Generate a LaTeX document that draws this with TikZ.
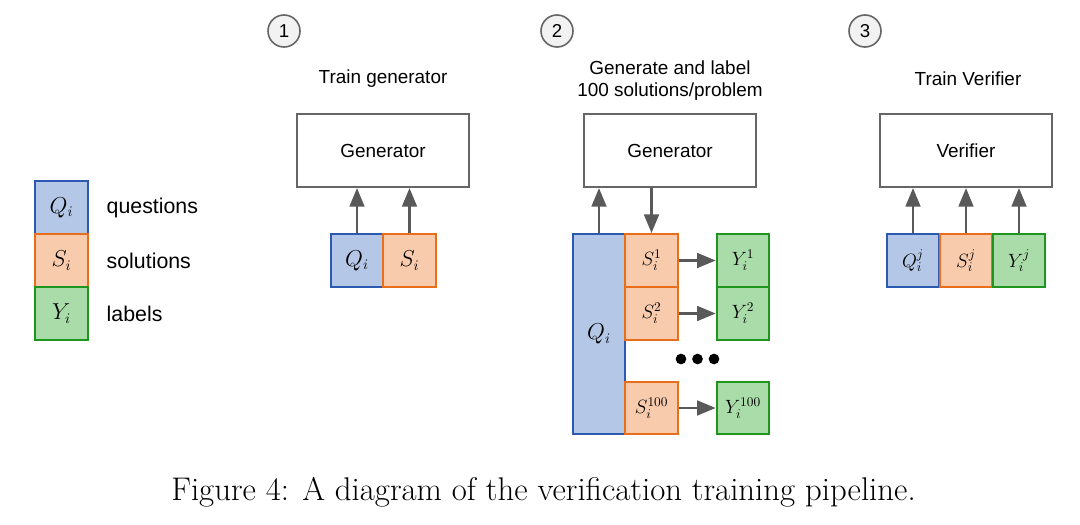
\documentclass[tikz,border=0pt]{standalone}
\usepackage{fontspec}
\setsansfont{Liberation Sans}
\usetikzlibrary{arrows.meta}
\definecolor{qfill}{RGB}{180,199,231}
\definecolor{qline}{RGB}{44,90,176}
\definecolor{sfill}{RGB}{248,203,173}
\definecolor{sline}{RGB}{232,110,28}
\definecolor{yfill}{RGB}{170,220,170}
\definecolor{yline}{RGB}{30,150,30}
\definecolor{gline}{RGB}{102,102,102}
\definecolor{aline}{RGB}{89,89,89}
\tikzset{
  sq/.style={minimum width=39.4pt, minimum height=39.6pt, inner sep=0pt, line width=1.5pt},
  qbox/.style={sq, draw=qline, fill=qfill},
  sbox/.style={sq, draw=sline, fill=sfill},
  ybox/.style={sq, draw=yline, fill=yfill},
  gbox/.style={draw=gline, line width=1.5pt, fill=white, inner sep=0pt,
     minimum width=129pt, minimum height=54.75pt, font=\sffamily\fontsize{14.2}{17}\selectfont},
  numc/.style={circle, draw=gline, fill=black!5, line width=1.2pt, minimum size=24pt, inner sep=0pt,
     font=\sffamily\fontsize{14}{16}\selectfont},
  ttl/.style={font=\sffamily\fontsize{14.2}{16.5}\selectfont, align=center},
  leg/.style={anchor=west, font=\sffamily\fontsize{16}{18}\selectfont},
  arr/.style={draw=aline, line width=2.1pt, -{Triangle[length=14pt,width=11pt]}},
  m1/.style={font=\fontsize{16}{18}\selectfont},
  m2/.style={font=\fontsize{14.5}{17}\selectfont},
  dot/.style={circle, fill=black, minimum size=8pt, inner sep=0pt},
}
\begin{document}
\begin{tikzpicture}[x=0.75pt,y=-0.75pt]
\useasboundingbox (0,0) rectangle (1080,524);
% legend
\node[qbox, m1] (lq) at (61.5,207.5) {$Q_i$};
\node[sbox, m1] (ls) at (61.5,260.5) {$S_i$};
\node[ybox, m1] (ly) at (61.5,313.5) {$Y_i$};
\node[leg] (lqt) at (102,208) {questions};
\node[leg] (lst) at (102,261) {solutions};
\node[leg] (lyt) at (102,314) {labels};
% step numbers
\node[numc] (c1) at (284,31) {1};
\node[numc] (c2) at (557,31) {2};
\node[numc] (c3) at (865,31) {3};
% panel 1
\node[ttl] (t1) at (383,79) {Train generator};
\node[gbox] (g1) at (383,150.5) {Generator};
\node[qbox, m1] (p1q) at (357,260.5) {$Q_i$};
\node[sbox, m1] (p1s) at (409.5,260.5) {$S_i$};
\draw[arr] (p1q.north) -- (p1q.north |- g1.south);
\draw[arr] (p1s.north) -- (p1s.north |- g1.south);
% panel 2
\node[ttl] (t2) at (670,81) {Generate and label\\100 solutions/problem};
\node[gbox] (g2) at (670,150.5) {Generator};
\node[qbox, m1, minimum height=150pt] (p2q) at (599,334) {$Q_i$};
\node[sbox, m2] (s1) at (651.5,260.5) {$S_i^1$};
\node[sbox, m2] (s2) at (651.5,313.5) {$S_i^2$};
\node[sbox, m2] (s3) at (651.5,408) {$S_i^{100}$};
\node[ybox, m2] (y1) at (743,260.5) {$Y_i^1$};
\node[ybox, m2] (y2) at (743,313.5) {$Y_i^2$};
\node[ybox, m2] (y3) at (743,408) {$Y_i^{100}$};
\draw[arr] (p2q.north) -- (p2q.north |- g2.south);
\draw[arr] (s1.north |- g2.south) -- (s1.north);
\draw[arr] (s1) -- (y1);
\draw[arr] (s2) -- (y2);
\draw[arr] (s3) -- (y3);
\node[dot] (d1) at (681,359) {};
\node[dot] (d2) at (697.5,359) {};
\node[dot] (d3) at (714,359) {};
% panel 3
\node[ttl] (t3) at (968,79) {Train Verifier};
\node[gbox] (g3) at (966,150.5) {Verifier};
\node[qbox, m2] (p3q) at (913,260.5) {$Q_i^j$};
\node[sbox, m2] (p3s) at (966,260.5) {$S_i^j$};
\node[ybox, m2] (p3y) at (1019,260.5) {$Y_i^j$};
\draw[arr] (p3q.north) -- (p3q.north |- g3.south);
\draw[arr] (p3s.north) -- (p3s.north |- g3.south);
\draw[arr] (p3y.north) -- (p3y.north |- g3.south);
% caption
\node[font=\fontsize{24.6}{28}\selectfont] (cap) at (543.5,492) {Figure 4: A diagram of the verification training pipeline.};
\end{tikzpicture}
\end{document}
